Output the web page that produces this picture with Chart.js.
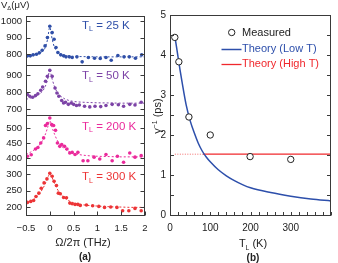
<!DOCTYPE html>
<html>
<head>
<meta charset="utf-8">
<script src="https://cdn.jsdelivr.net/npm/chart.js@4.4.1/dist/chart.umd.min.js"></script>
<style>
html, body { margin: 0; padding: 0; background: #fff; }
#wrap { position: relative; width: 338px; height: 263px; overflow: hidden; background: #fff; }
#wrap canvas { position: absolute; left: 0; top: 0; }
</style>
</head>
<body>
<div id="wrap">
    <canvas id="a1" width="338" height="263"></canvas>
    <canvas id="a2" width="338" height="263"></canvas>
    <canvas id="a3" width="338" height="263"></canvas>
    <canvas id="a4" width="338" height="263"></canvas>
    <canvas id="b" width="338" height="263"></canvas>
</div>
<script>
const FONT = '"Liberation Sans", Arial, Helvetica, sans-serif';

// ---- panel (a): V_delta vs Omega/2pi ----
const freqTicks = [-0.5, 0, 0.5, 1, 1.5, 2];
const freqTickLabels = ['\u22120.5', '0', '0.5', '1', '1.5', '2'];
const fitFreq = [-0.5, -0.4, -0.3, -0.2, -0.15, -0.1, -0.05, 0, 0.05, 0.1, 0.15, 0.2, 0.3, 0.4, 0.5, 0.6, 0.8, 1.0, 1.25, 1.5, 1.75, 2.0];

// T_L = 25 K
const freq25 = [-0.47, -0.41, -0.35, -0.28, -0.22, -0.16, -0.10, -0.05, 0.0, 0.05, 0.09, 0.13, 0.17, 0.23, 0.29, 0.34, 0.41, 0.47, 0.57, 0.68, 0.81, 0.94, 1.06, 1.18, 1.29, 1.43, 1.56, 1.67, 1.80, 1.93];
const volt25 = [790, 790, 796, 800, 808, 824, 850, 900, 968, 930, 890, 840, 810, 796, 790, 784, 784, 780, 784, 754, 780, 776, 774, 780, 764, 792, 784, 784, 776, 796];
const fit25 = [790, 793, 798, 808, 818, 838, 885, 962, 890, 840, 818, 806, 795, 790, 787, 786, 785, 784, 784, 784, 784, 784];
const yTicks25 = [800, 900, 1000];

// T_L = 50 K
const freq50 = [-0.47, -0.42, -0.36, -0.30, -0.25, -0.19, -0.15, -0.09, -0.05, 0.0, 0.05, 0.11, 0.15, 0.19, 0.25, 0.29, 0.33, 0.39, 0.45, 0.50, 0.56, 0.62, 0.73, 0.84, 0.95, 1.07, 1.18, 1.31, 1.44, 1.55, 1.68, 1.79, 1.92];
const volt50 = [786, 776, 770, 780, 791, 811, 830, 863, 892, 927, 892, 824, 795, 776, 751, 737, 741, 729, 737, 729, 722, 725, 718, 714, 718, 716, 722, 729, 727, 718, 729, 725, 741];
const fit50 = [758, 766, 776, 793, 807, 830, 870, 925, 875, 832, 802, 784, 763, 752, 746, 743, 740, 738, 737, 736, 736, 736];
const yTicks50 = [700, 800, 900];

// T_L = 200 K
const freq200 = [-0.47, -0.39, -0.30, -0.25, -0.19, -0.13, -0.09, -0.05, 0.0, 0.04, 0.08, 0.12, 0.16, 0.21, 0.25, 0.31, 0.36, 0.42, 0.47, 0.53, 0.59, 0.70, 0.80, 0.93, 1.05, 1.18, 1.31, 1.42, 1.55, 1.68, 1.79, 1.92];
const volt200 = [407, 412, 431, 436, 451, 468, 509, 516, 534, 512, 509, 493, 451, 440, 446, 440, 431, 418, 420, 413, 420, 392, 392, 404, 398, 413, 392, 407, 387, 418, 404, 409];
const fit200 = [413, 421, 432, 448, 460, 477, 500, 525, 502, 480, 462, 449, 433, 423, 417, 413, 409, 407, 406, 405, 405, 405];
const yTicks200 = [400, 450, 500];

// T_L = 300 K
const freq300 = [-0.47, -0.40, -0.34, -0.29, -0.23, -0.18, -0.12, -0.06, 0.0, 0.05, 0.09, 0.14, 0.18, 0.22, 0.29, 0.35, 0.42, 0.47, 0.53, 0.59, 0.64, 0.77, 0.90, 1.03, 1.15, 1.28, 1.41, 1.53, 1.66, 1.79, 1.92];
const volt300 = [215, 218, 221, 233, 243, 258, 274, 286, 303, 294, 279, 266, 243, 241, 230, 229, 213, 211, 209, 209, 206, 207, 205, 203, 200, 201, 200, 190, 190, 197, 190];
const fit300 = [212, 219, 229, 245, 256, 270, 287, 301, 289, 272, 257, 246, 230, 220, 214, 210, 206, 204, 202, 201, 200, 200];
const yTicks300 = [200, 250, 300];

// ---- panel (b): gamma^-1 vs T_L ----
const measTemp = [12, 22, 47, 100, 199, 300];
const measGamma = [4.44, 3.83, 2.45, 2.0, 1.46, 1.39];
const lowTemp = [12, 15, 20, 25, 30, 40, 50, 60, 70, 80, 90, 100, 120, 140, 160, 180, 200, 250, 300, 350, 400];
const lowGamma = [4.45, 4.28, 3.95, 3.62, 3.32, 2.76, 2.36, 2.06, 1.8, 1.6, 1.45, 1.33, 1.13, 0.98, 0.86, 0.76, 0.68, 0.56, 0.47, 0.4, 0.35];
const highTempDotted = [12, 82];
const highGammaDotted = [1.52, 1.52];
const highTemp = [82, 400];
const highGamma = [1.52, 1.52];
const tempTicks = [0, 20, 40, 60, 80, 100, 120, 140, 160, 180, 200, 220, 240, 260, 280, 300, 320, 340, 360, 380, 400];
const tempLabels = [0, 100, 200, 300];
const gammaTicks = [0, 0.5, 1, 1.5, 2, 2.5, 3, 3.5, 4, 4.5, 5];
const gammaLabels = [0, 1, 2, 3, 4, 5];
const legendLabels = ['Measured', 'Theory (Low T)', 'Theory (High T)'];

const C25 = '#2f4fa8';
const C50 = '#7c43a6';
const C200 = '#ea2a9b';
const C300 = '#ec3436';
const BLUE = '#2d4fab';
const RED = '#f0282d';
const INK = '#222';
const FRAME = '#3a3a3a';

Chart.defaults.font.family = FONT;
Chart.defaults.color = INK;

const pts = (xs, ys) => xs.map((x, i) => ({ x: x, y: ys[i] }));

function drawRich(ctx, it) {
    const size = it.size;
    const weight = it.bold ? 'bold ' : '';
    const fontOf = m => weight + (m ? size * 0.62 : size) + 'px ' + FONT;
    ctx.save();
    ctx.fillStyle = it.color || INK;
    ctx.textBaseline = 'alphabetic';
    ctx.textAlign = 'left';
    let w = 0;
    it.parts.forEach(p => { ctx.font = fontOf(p[1]); w += ctx.measureText(p[0]).width; });
    ctx.translate(it.x, it.y);
    if (it.rotate) ctx.rotate(-Math.PI / 2);
    let cx = it.align === 'center' ? -w / 2 : 0;
    it.parts.forEach(p => {
        ctx.font = fontOf(p[1]);
        const dy = p[1] === 'sub' ? size * 0.25 : (p[1] === 'sup' ? -size * 0.4 : 0);
        ctx.fillText(p[0], cx, dy);
        cx += ctx.measureText(p[0]).width;
    });
    ctx.restore();
}

// box round the plot area with inward ticks taken from the scales
function framePlugin(len, xTicks) {
    return {
        id: 'frame',
        afterDraw(chart) {
            const { ctx, chartArea: a } = chart;
            const L = Math.round(a.left) + 0.5, R = Math.round(a.right) - 0.5;
            const T = Math.round(a.top) + 0.5, B = Math.round(a.bottom) + 0.5;
            ctx.save();
            ctx.strokeStyle = FRAME;
            ctx.lineWidth = 1;
            ctx.beginPath();
            const ys = chart.scales.y;
            ys.ticks.forEach(t => {
                const p = Math.round(ys.getPixelForValue(t.value)) + 0.5;
                ctx.moveTo(L, p); ctx.lineTo(L + len, p);
                ctx.moveTo(R, p); ctx.lineTo(R - len, p);
            });
            if (xTicks) {
                const xs = chart.scales.x;
                xs.ticks.forEach(t => {
                    const p = Math.round(xs.getPixelForValue(t.value)) + 0.5;
                    ctx.moveTo(p, B); ctx.lineTo(p, B - len);
                });
            }
            ctx.stroke();
            ctx.strokeRect(L, T, R - L, B - T);
            ctx.restore();
        }
    };
}

function textPlugin(items) {
    return {
        id: 'texts',
        afterDraw(chart) { items.forEach(it => drawRich(chart.ctx, it)); }
    };
}

const subplots = [
    { id: 'a1', x: freq25, y: volt25, fit: fit25, ticks: yTicks25, color: C25, min: 735, max: 1030, top: 16, bottom: 65, temp: '25 K', base: 28.5 },
    { id: 'a2', x: freq50, y: volt50, fit: fit50, ticks: yTicks50, color: C50, min: 667, max: 958, top: 65, bottom: 115, temp: '50 K', base: 79 },
    { id: 'a3', x: freq200, y: volt200, fit: fit200, ticks: yTicks200, color: C200, min: 378, max: 544, top: 115, bottom: 165, temp: '200 K', base: 129.5 },
    { id: 'a4', x: freq300, y: volt300, fit: fit300, ticks: yTicks300, color: C300, min: 177, max: 328, top: 165, bottom: 215, temp: '300 K', base: 180 }
];

subplots.forEach((sp, idx) => {
    const last = idx === subplots.length - 1;
    const items = [{ parts: [['T'], ['L', 'sub'], [' = ' + sp.temp]], x: 82, y: sp.base, size: 11.5, color: sp.color }];
    if (idx === 0) {
        items.push({ parts: [['V'], ['\u0394', 'sub'], ['(\u03bcV)']], x: 1, y: 7.5, size: 9.5 });
    }
    if (last) {
        items.push({ parts: [['\u03a9/2\u03c0 (THz)']], x: 83, y: 246, size: 11, align: 'center' });
        items.push({ parts: [['(a)']], x: 85, y: 259.5, size: 10, bold: true, align: 'center' });
    }
    new Chart(document.getElementById(sp.id), {
        type: 'scatter',
        data: {
            datasets: [
                {
                    type: 'line',
                    data: pts(fitFreq, sp.fit),
                    showLine: true,
                    borderColor: sp.color,
                    borderWidth: 1,
                    borderDash: [2, 2],
                    pointRadius: 0,
                    cubicInterpolationMode: 'monotone'
                },
                {
                    data: pts(sp.x, sp.y),
                    pointRadius: 1.8,
                    pointBorderWidth: 0,
                    backgroundColor: sp.color,
                    borderColor: sp.color
                }
            ]
        },
        options: {
            responsive: false,
            animation: false,
            events: [],
            layout: { padding: { left: 0, right: 193, top: sp.top, bottom: last ? 263 - sp.bottom - 30 : 263 - sp.bottom } },
            plugins: { legend: { display: false }, tooltip: { enabled: false } },
            scales: {
                x: {
                    type: 'linear',
                    min: -0.5,
                    max: 2,
                    display: last,
                    afterBuildTicks: s => { s.ticks = freqTicks.map(v => ({ value: v })); },
                    afterFit: s => { s.height = last ? 30 : 0; },
                    grid: { display: false, drawTicks: false },
                    border: { display: false },
                    ticks: {
                        autoSkip: false, maxRotation: 0, minRotation: 0, padding: 8,
                        font: { size: 9.5 }, color: INK,
                        callback: v => freqTickLabels[freqTicks.indexOf(v)] ?? ''
                    }
                },
                y: {
                    type: 'linear',
                    min: sp.min,
                    max: sp.max,
                    afterBuildTicks: s => { s.ticks = sp.ticks.map(v => ({ value: v })); },
                    afterFit: s => { s.width = 26; },
                    grid: { display: false, drawTicks: false },
                    border: { display: false },
                    ticks: { autoSkip: false, padding: 4, font: { size: 9.5 }, color: INK, callback: v => String(v) }
                }
            }
        },
        plugins: [framePlugin(4, last), textPlugin(items)]
    });
});

// legend of panel (b), drawn inside the plot area
const legendB = {
    id: 'legendB',
    afterDraw(chart) {
        const { ctx, chartArea: a } = chart;
        const ds = chart.data.datasets;
        const rows = [17.5, 34, 49];
        const textColors = [INK, BLUE, RED];
        ctx.save();
        ctx.font = '11px ' + FONT;
        ctx.textBaseline = 'middle';
        ctx.textAlign = 'left';
        // circle
        ctx.beginPath();
        ctx.arc(a.left + 61.7, a.top + rows[0], ds[0].pointRadius, 0, Math.PI * 2);
        ctx.fillStyle = ds[0].backgroundColor;
        ctx.fill();
        ctx.lineWidth = ds[0].borderWidth;
        ctx.strokeStyle = ds[0].borderColor;
        ctx.stroke();
        // lines
        [ds[1], ds[3]].forEach((d, i) => {
            ctx.beginPath();
            ctx.moveTo(a.left + 51.5, a.top + rows[i + 1] + 0.5);
            ctx.lineTo(a.left + 71.5, a.top + rows[i + 1] + 0.5);
            ctx.strokeStyle = d.borderColor;
            ctx.lineWidth = d.borderWidth;
            ctx.stroke();
        });
        legendLabels.forEach((t, i) => {
            ctx.fillStyle = textColors[i];
            ctx.fillText(t, a.left + 72, a.top + rows[i]);
        });
        ctx.restore();
    }
};

const itemsB = [
    { parts: [['T'], ['L', 'sub'], [' (K)']], x: 253, y: 247, size: 11, align: 'center' },
    { parts: [['(b)']], x: 253, y: 260.5, size: 10, bold: true, align: 'center' },
    { parts: [['\u03b3'], ['\u22121', 'sup'], [' (ps)']], x: 161, y: 116, size: 11, align: 'center', rotate: true }
];

new Chart(document.getElementById('b'), {
    type: 'scatter',
    data: {
        datasets: [
            {
                data: pts(measTemp, measGamma),
                pointRadius: 3.2,
                borderWidth: 1,
                borderColor: INK,
                backgroundColor: '#fff',
                order: 0
            },
            {
                type: 'line',
                data: pts(lowTemp, lowGamma),
                showLine: true,
                borderColor: BLUE,
                borderWidth: 1.5,
                pointRadius: 0,
                cubicInterpolationMode: 'monotone',
                order: 2
            },
            {
                type: 'line',
                data: pts(highTempDotted, highGammaDotted),
                showLine: true,
                borderColor: '#f26a6a',
                borderWidth: 1,
                borderDash: [1, 1.5],
                pointRadius: 0,
                order: 3
            },
            {
                type: 'line',
                data: pts(highTemp, highGamma),
                showLine: true,
                borderColor: RED,
                borderWidth: 1.3,
                pointRadius: 0,
                order: 3
            }
        ]
    },
    options: {
        responsive: false,
        animation: false,
        events: [],
        layout: { padding: { left: 150, right: 2, top: 15, bottom: 18 } },
        plugins: { legend: { display: false }, tooltip: { enabled: false } },
        scales: {
            x: {
                type: 'linear',
                min: 0,
                max: 400,
                afterBuildTicks: s => { s.ticks = tempTicks.map(v => ({ value: v })); },
                afterFit: s => { s.height = 30; },
                grid: { display: false, drawTicks: false },
                border: { display: false },
                ticks: {
                    autoSkip: false, maxRotation: 0, minRotation: 0, padding: 7,
                    font: { size: 10 }, color: INK,
                    callback: v => tempLabels.includes(v) ? String(v) : ''
                }
            },
            y: {
                type: 'linear',
                min: 0,
                max: 5,
                afterBuildTicks: s => { s.ticks = gammaTicks.map(v => ({ value: v })); },
                afterFit: s => { s.width = 20; },
                grid: { display: false, drawTicks: false },
                border: { display: false },
                ticks: {
                    autoSkip: false, padding: 4, font: { size: 10 }, color: INK,
                    callback: v => gammaLabels.includes(v) ? String(v) : ''
                }
            }
        }
    },
    plugins: [framePlugin(3.5, true), legendB, textPlugin(itemsB)]
});
</script>
</body>
</html>
